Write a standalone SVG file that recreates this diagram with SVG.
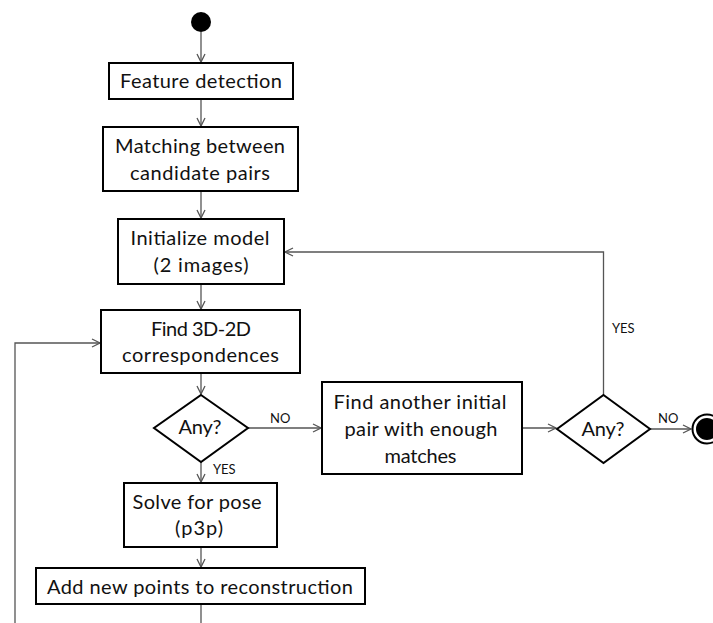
<svg xmlns="http://www.w3.org/2000/svg" width="713" height="623" viewBox="0 0 713 623">
<style>
.box{fill:#fff;stroke:#000;stroke-width:2}
.t{font-family:Lato,"Open Sans","Liberation Sans",sans-serif;font-size:20px;fill:#111;text-anchor:middle}
.lbl{font-family:Lato,"Open Sans","Liberation Sans",sans-serif;font-size:13px;fill:#111}
.c{fill:none;stroke:#555;stroke-width:1.3}
</style>
<defs>
<marker id="arr" markerUnits="userSpaceOnUse" markerWidth="12" markerHeight="12" refX="9" refY="5" orient="auto">
<path d="M1,1 L9,5 L1,9" fill="none" stroke="#555" stroke-width="1.3"/>
</marker>
</defs>
<g id="connectors">
<path class="c" d="M201,32 V62" marker-end="url(#arr)"/>
<path class="c" d="M201,99 V126" marker-end="url(#arr)"/>
<path class="c" d="M201,191 V218" marker-end="url(#arr)"/>
<path class="c" d="M201,284 V309" marker-end="url(#arr)"/>
<path class="c" d="M201,373 V394" marker-end="url(#arr)"/>
<path class="c" d="M201,462 V482" marker-end="url(#arr)"/>
<path class="c" d="M201,547 V567" marker-end="url(#arr)"/>
<path class="c" d="M201,604 V640 H15 V343 H100" marker-end="url(#arr)"/>
<path class="c" d="M248,428 H321" marker-end="url(#arr)"/>
<path class="c" d="M522,428 H556" marker-end="url(#arr)"/>
<path class="c" d="M603.5,395 V252 H285" marker-end="url(#arr)"/>
<path class="c" d="M650,429 H691" marker-end="url(#arr)"/>
<text class="lbl" x="270" y="422.5">NO</text>
<text class="lbl" x="213" y="474">YES</text>
<text class="lbl" x="612" y="332.5">YES</text>
<text class="lbl" x="658" y="422.5">NO</text>
</g>
<g id="start"><circle cx="201" cy="22" r="10" fill="#000"/></g>
<g id="feature-detection">
<rect class="box" x="109" y="63" width="184" height="36"/>
<text class="t" x="201" y="88" textLength="162">Feature detection</text>
</g>
<g id="matching">
<rect class="box" x="103" y="127" width="195" height="64"/>
<text class="t" x="200" y="152.5" textLength="170">Matching between</text>
<text class="t" x="200" y="180" textLength="140">candidate pairs</text>
</g>
<g id="initialize">
<rect class="box" x="118" y="219" width="166" height="65"/>
<text class="t" x="200" y="245" textLength="139">Initialize model</text>
<text class="t" x="201" y="272" textLength="95">(2 images)</text>
</g>
<g id="find-3d2d">
<rect class="box" x="101" y="310" width="199" height="63"/>
<text class="t" x="201" y="336" textLength="100">Find 3D-2D</text>
<text class="t" x="200.5" y="362" textLength="157">correspondences</text>
</g>
<g id="any1">
<polygon class="box" points="201,395 248,428 201,462 154,428"/>
<text class="t" x="200" y="433.5" textLength="43">Any?</text>
</g>
<g id="solve-pose">
<rect class="box" x="124" y="483" width="153" height="64"/>
<text class="t" x="197" y="508.5" textLength="129">Solve for pose</text>
<text class="t" x="199" y="535" textLength="48">(p3p)</text>
</g>
<g id="add-points">
<rect class="box" x="36" y="568" width="329" height="36"/>
<text class="t" x="200" y="593.5" textLength="306">Add new points to reconstruction</text>
</g>
<g id="find-another">
<rect class="box" x="322" y="382" width="200" height="92"/>
<text class="t" x="420" y="408.5" textLength="173">Find another initial</text>
<text class="t" x="421" y="436" textLength="153">pair with enough</text>
<text class="t" x="420.5" y="462.5" textLength="72">matches</text>
</g>
<g id="any2">
<polygon class="box" points="603.5,395 650,429 603.5,463 557,429"/>
<text class="t" x="603" y="436" textLength="43">Any?</text>
</g>
<g id="end">
<circle cx="707" cy="429" r="14.5" fill="#fff" stroke="#000" stroke-width="2"/>
<circle cx="707" cy="429" r="11" fill="#000"/>
</g>
</svg>
